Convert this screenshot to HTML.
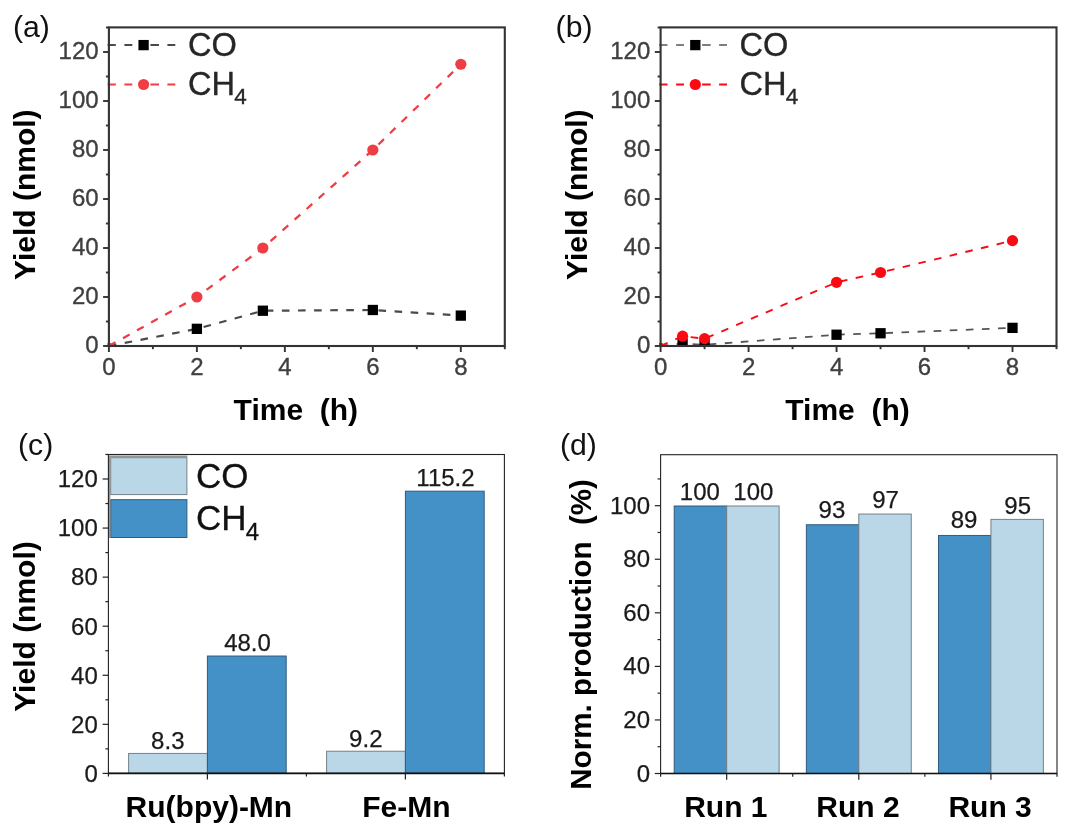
<!DOCTYPE html>
<html lang="en"><head><meta charset="utf-8"><title>Figure</title>
<style>html,body{margin:0;padding:0;background:#fff;}body{width:1080px;height:838px;overflow:hidden;}svg{display:block;filter:blur(0.4px);font-family:"Liberation Sans", Arial, Helvetica, sans-serif;}</style>
</head><body>
<svg width="1080" height="838" viewBox="0 0 1080 838">
<rect width="1080" height="838" fill="#fff"/>
<clipPath id="cpa"><rect x="107.40" y="27.40" width="397.40" height="318.60"/></clipPath>
<g clip-path="url(#cpa)">
<line x1="107.40" y1="45.0" x2="115.80" y2="45.0" stroke="#4a4a4a" stroke-width="2.1"/>
<line x1="107.40" y1="84.5" x2="115.80" y2="84.5" stroke="#ee3e44" stroke-width="2.2"/>
<line x1="124.40" y1="45.0" x2="132.30" y2="45.0" stroke="#4a4a4a" stroke-width="2.1"/>
<line x1="124.40" y1="84.5" x2="132.30" y2="84.5" stroke="#ee3e44" stroke-width="2.2"/>
<line x1="150.40" y1="45.0" x2="159.00" y2="45.0" stroke="#4a4a4a" stroke-width="2.1"/>
<line x1="150.40" y1="84.5" x2="159.00" y2="84.5" stroke="#ee3e44" stroke-width="2.2"/>
<line x1="167.40" y1="45.0" x2="175.30" y2="45.0" stroke="#4a4a4a" stroke-width="2.1"/>
<line x1="167.40" y1="84.5" x2="175.30" y2="84.5" stroke="#ee3e44" stroke-width="2.2"/>
<polyline points="108.90,346.00 196.88,328.85 262.86,310.72 372.83,309.99 460.81,315.62" fill="none" stroke="#4a4a4a" stroke-width="2.2" stroke-dasharray="7.6 8.5"/>
<rect x="191.73" y="323.70" width="10.3" height="10.3" fill="#000"/>
<rect x="257.71" y="305.57" width="10.3" height="10.3" fill="#000"/>
<rect x="367.68" y="304.84" width="10.3" height="10.3" fill="#000"/>
<rect x="455.66" y="310.47" width="10.3" height="10.3" fill="#000"/>
<polyline points="108.90,346.00 196.88,297.00 262.86,248.00 372.83,150.00 460.81,64.25" fill="none" stroke="#ee3e44" stroke-width="2.3000000000000003" stroke-dasharray="7.6 8.5"/>
<circle cx="108.90" cy="346.00" r="3.2" fill="#ee3e44"/>
<circle cx="196.88" cy="297.00" r="5.6" fill="#ee3e44"/>
<circle cx="262.86" cy="248.00" r="5.6" fill="#ee3e44"/>
<circle cx="372.83" cy="150.00" r="5.6" fill="#ee3e44"/>
<circle cx="460.81" cy="64.25" r="5.6" fill="#ee3e44"/>
</g>
<rect x="138.45" y="39.95" width="10.3" height="10.3" fill="#000"/>
<circle cx="143.60" cy="84.5" r="5.6" fill="#ee3e44"/>
<text x="187.90" y="55.90" font-size="32.6" text-anchor="start" font-weight="normal" fill="#262626" stroke="#262626" stroke-width="0.35">CO</text>
<text x="187.90" y="95.00" font-size="32.6" text-anchor="start" font-weight="normal" fill="#262626" stroke="#262626" stroke-width="0.35">CH<tspan font-size="22.5" dy="9.4" dx="-0.8">4</tspan></text>
<rect x="108.90" y="27.40" width="395.90" height="318.60" fill="none" stroke="#333" stroke-width="2.1"/>
<line x1="103.10" y1="346.00" x2="108.90" y2="346.00" stroke="#333" stroke-width="1.9"/>
<text x="98.60" y="353.40" font-size="24" text-anchor="end" font-weight="normal" fill="#3f3f3f" stroke="#3f3f3f" stroke-width="0.35">0</text>
<line x1="105.90" y1="321.50" x2="108.90" y2="321.50" stroke="#333" stroke-width="1.9"/>
<line x1="103.10" y1="297.00" x2="108.90" y2="297.00" stroke="#333" stroke-width="1.9"/>
<text x="98.60" y="304.40" font-size="24" text-anchor="end" font-weight="normal" fill="#3f3f3f" stroke="#3f3f3f" stroke-width="0.35">20</text>
<line x1="105.90" y1="272.50" x2="108.90" y2="272.50" stroke="#333" stroke-width="1.9"/>
<line x1="103.10" y1="248.00" x2="108.90" y2="248.00" stroke="#333" stroke-width="1.9"/>
<text x="98.60" y="255.40" font-size="24" text-anchor="end" font-weight="normal" fill="#3f3f3f" stroke="#3f3f3f" stroke-width="0.35">40</text>
<line x1="105.90" y1="223.50" x2="108.90" y2="223.50" stroke="#333" stroke-width="1.9"/>
<line x1="103.10" y1="199.00" x2="108.90" y2="199.00" stroke="#333" stroke-width="1.9"/>
<text x="98.60" y="206.40" font-size="24" text-anchor="end" font-weight="normal" fill="#3f3f3f" stroke="#3f3f3f" stroke-width="0.35">60</text>
<line x1="105.90" y1="174.50" x2="108.90" y2="174.50" stroke="#333" stroke-width="1.9"/>
<line x1="103.10" y1="150.00" x2="108.90" y2="150.00" stroke="#333" stroke-width="1.9"/>
<text x="98.60" y="157.40" font-size="24" text-anchor="end" font-weight="normal" fill="#3f3f3f" stroke="#3f3f3f" stroke-width="0.35">80</text>
<line x1="105.90" y1="125.50" x2="108.90" y2="125.50" stroke="#333" stroke-width="1.9"/>
<line x1="103.10" y1="101.00" x2="108.90" y2="101.00" stroke="#333" stroke-width="1.9"/>
<text x="98.60" y="108.40" font-size="24" text-anchor="end" font-weight="normal" fill="#3f3f3f" stroke="#3f3f3f" stroke-width="0.35">100</text>
<line x1="105.90" y1="76.50" x2="108.90" y2="76.50" stroke="#333" stroke-width="1.9"/>
<line x1="103.10" y1="52.00" x2="108.90" y2="52.00" stroke="#333" stroke-width="1.9"/>
<text x="98.60" y="59.40" font-size="24" text-anchor="end" font-weight="normal" fill="#3f3f3f" stroke="#3f3f3f" stroke-width="0.35">120</text>
<line x1="105.90" y1="27.50" x2="108.90" y2="27.50" stroke="#333" stroke-width="1.9"/>
<line x1="108.90" y1="346.00" x2="108.90" y2="352.00" stroke="#333" stroke-width="1.9"/>
<text x="108.90" y="375.00" font-size="24" text-anchor="middle" font-weight="normal" fill="#3f3f3f" stroke="#3f3f3f" stroke-width="0.35">0</text>
<line x1="152.89" y1="346.00" x2="152.89" y2="349.20" stroke="#333" stroke-width="1.9"/>
<line x1="196.88" y1="346.00" x2="196.88" y2="352.00" stroke="#333" stroke-width="1.9"/>
<text x="196.88" y="375.00" font-size="24" text-anchor="middle" font-weight="normal" fill="#3f3f3f" stroke="#3f3f3f" stroke-width="0.35">2</text>
<line x1="240.87" y1="346.00" x2="240.87" y2="349.20" stroke="#333" stroke-width="1.9"/>
<line x1="284.86" y1="346.00" x2="284.86" y2="352.00" stroke="#333" stroke-width="1.9"/>
<text x="284.86" y="375.00" font-size="24" text-anchor="middle" font-weight="normal" fill="#3f3f3f" stroke="#3f3f3f" stroke-width="0.35">4</text>
<line x1="328.84" y1="346.00" x2="328.84" y2="349.20" stroke="#333" stroke-width="1.9"/>
<line x1="372.83" y1="346.00" x2="372.83" y2="352.00" stroke="#333" stroke-width="1.9"/>
<text x="372.83" y="375.00" font-size="24" text-anchor="middle" font-weight="normal" fill="#3f3f3f" stroke="#3f3f3f" stroke-width="0.35">6</text>
<line x1="416.82" y1="346.00" x2="416.82" y2="349.20" stroke="#333" stroke-width="1.9"/>
<line x1="460.81" y1="346.00" x2="460.81" y2="352.00" stroke="#333" stroke-width="1.9"/>
<text x="460.81" y="375.00" font-size="24" text-anchor="middle" font-weight="normal" fill="#3f3f3f" stroke="#3f3f3f" stroke-width="0.35">8</text>
<line x1="504.80" y1="346.00" x2="504.80" y2="349.20" stroke="#333" stroke-width="1.9"/>
<text x="295.85" y="420.1" font-size="30" text-anchor="middle" font-weight="bold" fill="#000" xml:space="preserve">Time  (h)</text>
<text transform="translate(35.00,194.70) rotate(-90)" font-size="30" text-anchor="middle" font-weight="bold" fill="#000" xml:space="preserve">Yield (nmol)</text>
<text x="13.00" y="36.90" font-size="30.2" text-anchor="start" font-weight="normal" fill="#111">(a)</text>
<clipPath id="cpb"><rect x="659.10" y="27.40" width="397.40" height="318.60"/></clipPath>
<g clip-path="url(#cpb)">
<line x1="659.10" y1="45.0" x2="667.50" y2="45.0" stroke="#555" stroke-width="1.7"/>
<line x1="659.10" y1="84.5" x2="667.50" y2="84.5" stroke="#fb0a14" stroke-width="1.8"/>
<line x1="676.10" y1="45.0" x2="684.00" y2="45.0" stroke="#555" stroke-width="1.7"/>
<line x1="676.10" y1="84.5" x2="684.00" y2="84.5" stroke="#fb0a14" stroke-width="1.8"/>
<line x1="702.10" y1="45.0" x2="710.70" y2="45.0" stroke="#555" stroke-width="1.7"/>
<line x1="702.10" y1="84.5" x2="710.70" y2="84.5" stroke="#fb0a14" stroke-width="1.8"/>
<line x1="719.10" y1="45.0" x2="727.00" y2="45.0" stroke="#555" stroke-width="1.7"/>
<line x1="719.10" y1="84.5" x2="727.00" y2="84.5" stroke="#fb0a14" stroke-width="1.8"/>
<polyline points="660.60,346.00 682.59,343.55 704.59,344.77 836.56,334.73 880.54,333.26 1012.51,327.87" fill="none" stroke="#555" stroke-width="1.8" stroke-dasharray="7.6 8.5"/>
<rect x="677.44" y="338.40" width="10.3" height="10.3" fill="#000"/>
<rect x="699.44" y="339.62" width="10.3" height="10.3" fill="#000"/>
<rect x="831.41" y="329.58" width="10.3" height="10.3" fill="#000"/>
<rect x="875.39" y="328.11" width="10.3" height="10.3" fill="#000"/>
<rect x="1007.36" y="322.72" width="10.3" height="10.3" fill="#000"/>
<polyline points="660.60,346.00 682.59,336.20 704.59,338.65 836.56,282.30 880.54,272.50 1012.51,240.65" fill="none" stroke="#fb0a14" stroke-width="1.9000000000000001" stroke-dasharray="7.6 8.5"/>
<circle cx="660.60" cy="346.00" r="3.2" fill="#fb0a14"/>
<circle cx="682.59" cy="336.20" r="5.6" fill="#fb0a14"/>
<circle cx="704.59" cy="338.65" r="5.6" fill="#fb0a14"/>
<circle cx="836.56" cy="282.30" r="5.6" fill="#fb0a14"/>
<circle cx="880.54" cy="272.50" r="5.6" fill="#fb0a14"/>
<circle cx="1012.51" cy="240.65" r="5.6" fill="#fb0a14"/>
</g>
<rect x="690.15" y="39.95" width="10.3" height="10.3" fill="#000"/>
<circle cx="695.30" cy="84.5" r="5.6" fill="#fb0a14"/>
<text x="739.60" y="55.90" font-size="32.6" text-anchor="start" font-weight="normal" fill="#262626" stroke="#262626" stroke-width="0.35">CO</text>
<text x="739.60" y="95.00" font-size="32.6" text-anchor="start" font-weight="normal" fill="#262626" stroke="#262626" stroke-width="0.35">CH<tspan font-size="22.5" dy="9.4" dx="-0.8">4</tspan></text>
<rect x="660.60" y="27.40" width="395.90" height="318.60" fill="none" stroke="#333" stroke-width="2.1"/>
<line x1="654.80" y1="346.00" x2="660.60" y2="346.00" stroke="#333" stroke-width="1.9"/>
<text x="650.30" y="353.40" font-size="24" text-anchor="end" font-weight="normal" fill="#3f3f3f" stroke="#3f3f3f" stroke-width="0.35">0</text>
<line x1="657.60" y1="321.50" x2="660.60" y2="321.50" stroke="#333" stroke-width="1.9"/>
<line x1="654.80" y1="297.00" x2="660.60" y2="297.00" stroke="#333" stroke-width="1.9"/>
<text x="650.30" y="304.40" font-size="24" text-anchor="end" font-weight="normal" fill="#3f3f3f" stroke="#3f3f3f" stroke-width="0.35">20</text>
<line x1="657.60" y1="272.50" x2="660.60" y2="272.50" stroke="#333" stroke-width="1.9"/>
<line x1="654.80" y1="248.00" x2="660.60" y2="248.00" stroke="#333" stroke-width="1.9"/>
<text x="650.30" y="255.40" font-size="24" text-anchor="end" font-weight="normal" fill="#3f3f3f" stroke="#3f3f3f" stroke-width="0.35">40</text>
<line x1="657.60" y1="223.50" x2="660.60" y2="223.50" stroke="#333" stroke-width="1.9"/>
<line x1="654.80" y1="199.00" x2="660.60" y2="199.00" stroke="#333" stroke-width="1.9"/>
<text x="650.30" y="206.40" font-size="24" text-anchor="end" font-weight="normal" fill="#3f3f3f" stroke="#3f3f3f" stroke-width="0.35">60</text>
<line x1="657.60" y1="174.50" x2="660.60" y2="174.50" stroke="#333" stroke-width="1.9"/>
<line x1="654.80" y1="150.00" x2="660.60" y2="150.00" stroke="#333" stroke-width="1.9"/>
<text x="650.30" y="157.40" font-size="24" text-anchor="end" font-weight="normal" fill="#3f3f3f" stroke="#3f3f3f" stroke-width="0.35">80</text>
<line x1="657.60" y1="125.50" x2="660.60" y2="125.50" stroke="#333" stroke-width="1.9"/>
<line x1="654.80" y1="101.00" x2="660.60" y2="101.00" stroke="#333" stroke-width="1.9"/>
<text x="650.30" y="108.40" font-size="24" text-anchor="end" font-weight="normal" fill="#3f3f3f" stroke="#3f3f3f" stroke-width="0.35">100</text>
<line x1="657.60" y1="76.50" x2="660.60" y2="76.50" stroke="#333" stroke-width="1.9"/>
<line x1="654.80" y1="52.00" x2="660.60" y2="52.00" stroke="#333" stroke-width="1.9"/>
<text x="650.30" y="59.40" font-size="24" text-anchor="end" font-weight="normal" fill="#3f3f3f" stroke="#3f3f3f" stroke-width="0.35">120</text>
<line x1="657.60" y1="27.50" x2="660.60" y2="27.50" stroke="#333" stroke-width="1.9"/>
<line x1="660.60" y1="346.00" x2="660.60" y2="352.00" stroke="#333" stroke-width="1.9"/>
<text x="660.60" y="375.00" font-size="24" text-anchor="middle" font-weight="normal" fill="#3f3f3f" stroke="#3f3f3f" stroke-width="0.35">0</text>
<line x1="704.59" y1="346.00" x2="704.59" y2="349.20" stroke="#333" stroke-width="1.9"/>
<line x1="748.58" y1="346.00" x2="748.58" y2="352.00" stroke="#333" stroke-width="1.9"/>
<text x="748.58" y="375.00" font-size="24" text-anchor="middle" font-weight="normal" fill="#3f3f3f" stroke="#3f3f3f" stroke-width="0.35">2</text>
<line x1="792.57" y1="346.00" x2="792.57" y2="349.20" stroke="#333" stroke-width="1.9"/>
<line x1="836.56" y1="346.00" x2="836.56" y2="352.00" stroke="#333" stroke-width="1.9"/>
<text x="836.56" y="375.00" font-size="24" text-anchor="middle" font-weight="normal" fill="#3f3f3f" stroke="#3f3f3f" stroke-width="0.35">4</text>
<line x1="880.54" y1="346.00" x2="880.54" y2="349.20" stroke="#333" stroke-width="1.9"/>
<line x1="924.53" y1="346.00" x2="924.53" y2="352.00" stroke="#333" stroke-width="1.9"/>
<text x="924.53" y="375.00" font-size="24" text-anchor="middle" font-weight="normal" fill="#3f3f3f" stroke="#3f3f3f" stroke-width="0.35">6</text>
<line x1="968.52" y1="346.00" x2="968.52" y2="349.20" stroke="#333" stroke-width="1.9"/>
<line x1="1012.51" y1="346.00" x2="1012.51" y2="352.00" stroke="#333" stroke-width="1.9"/>
<text x="1012.51" y="375.00" font-size="24" text-anchor="middle" font-weight="normal" fill="#3f3f3f" stroke="#3f3f3f" stroke-width="0.35">8</text>
<line x1="1056.50" y1="346.00" x2="1056.50" y2="349.20" stroke="#333" stroke-width="1.9"/>
<text x="847.55" y="420.1" font-size="30" text-anchor="middle" font-weight="bold" fill="#000" xml:space="preserve">Time  (h)</text>
<text transform="translate(586.70,194.70) rotate(-90)" font-size="30" text-anchor="middle" font-weight="bold" fill="#000" xml:space="preserve">Yield (nmol)</text>
<text x="555.60" y="36.90" font-size="30.2" text-anchor="start" font-weight="normal" fill="#111">(b)</text>
<rect x="128.60" y="753.44" width="78.80" height="19.96" fill="#bad7e8" stroke="#74808a" stroke-width="1"/>
<rect x="207.40" y="656.04" width="78.80" height="117.36" fill="#4391c6" stroke="#335a7c" stroke-width="1"/>
<text x="167.80" y="749.04" font-size="24" text-anchor="middle" font-weight="normal" fill="#1a1a1a" stroke="#1a1a1a" stroke-width="0.25">8.3</text>
<text x="247.50" y="651.24" font-size="24" text-anchor="middle" font-weight="normal" fill="#1a1a1a" stroke="#1a1a1a" stroke-width="0.25">48.0</text>
<rect x="326.60" y="751.23" width="78.80" height="22.17" fill="#bad7e8" stroke="#74808a" stroke-width="1"/>
<rect x="405.40" y="491.18" width="78.80" height="282.22" fill="#4391c6" stroke="#335a7c" stroke-width="1"/>
<text x="365.80" y="746.83" font-size="24" text-anchor="middle" font-weight="normal" fill="#1a1a1a" stroke="#1a1a1a" stroke-width="0.25">9.2</text>
<text x="445.50" y="486.38" font-size="24" text-anchor="middle" font-weight="normal" fill="#1a1a1a" stroke="#1a1a1a" stroke-width="0.25">115.2</text>
<rect x="110.7" y="457.7" width="76.2" height="36.9" fill="#bad7e8" stroke="#74808a" stroke-width="1"/>
<rect x="110.7" y="499.7" width="76.2" height="37.8" fill="#4391c6" stroke="#335a7c" stroke-width="1"/>
<path d="M109.6,538 V456.2 H187.4" fill="none" stroke="#949494" stroke-width="1.5"/>
<text x="196.00" y="488.00" font-size="35" text-anchor="start" font-weight="normal" fill="#111" stroke="#111" stroke-width="0.3">CO</text>
<text x="196.00" y="530.20" font-size="35" text-anchor="start" font-weight="normal" fill="#111" stroke="#111" stroke-width="0.3">CH<tspan font-size="24" dy="9.4" dx="-0.8">4</tspan></text>
<rect x="108.40" y="454.50" width="396.00" height="318.90" fill="none" stroke="#222" stroke-width="1.1"/>
<line x1="108.40" y1="773.40" x2="504.40" y2="773.40" stroke="#111" stroke-width="1.6"/>
<line x1="102.60" y1="773.40" x2="108.40" y2="773.40" stroke="#222" stroke-width="1.2"/>
<text x="97.80" y="781.70" font-size="24" text-anchor="end" font-weight="normal" fill="#1a1a1a" stroke="#1a1a1a" stroke-width="0.25">0</text>
<line x1="105.40" y1="748.87" x2="108.40" y2="748.87" stroke="#222" stroke-width="1.2"/>
<line x1="102.60" y1="724.33" x2="108.40" y2="724.33" stroke="#222" stroke-width="1.2"/>
<text x="97.80" y="732.63" font-size="24" text-anchor="end" font-weight="normal" fill="#1a1a1a" stroke="#1a1a1a" stroke-width="0.25">20</text>
<line x1="105.40" y1="699.80" x2="108.40" y2="699.80" stroke="#222" stroke-width="1.2"/>
<line x1="102.60" y1="675.27" x2="108.40" y2="675.27" stroke="#222" stroke-width="1.2"/>
<text x="97.80" y="683.57" font-size="24" text-anchor="end" font-weight="normal" fill="#1a1a1a" stroke="#1a1a1a" stroke-width="0.25">40</text>
<line x1="105.40" y1="650.73" x2="108.40" y2="650.73" stroke="#222" stroke-width="1.2"/>
<line x1="102.60" y1="626.20" x2="108.40" y2="626.20" stroke="#222" stroke-width="1.2"/>
<text x="97.80" y="634.50" font-size="24" text-anchor="end" font-weight="normal" fill="#1a1a1a" stroke="#1a1a1a" stroke-width="0.25">60</text>
<line x1="105.40" y1="601.67" x2="108.40" y2="601.67" stroke="#222" stroke-width="1.2"/>
<line x1="102.60" y1="577.13" x2="108.40" y2="577.13" stroke="#222" stroke-width="1.2"/>
<text x="97.80" y="585.43" font-size="24" text-anchor="end" font-weight="normal" fill="#1a1a1a" stroke="#1a1a1a" stroke-width="0.25">80</text>
<line x1="105.40" y1="552.60" x2="108.40" y2="552.60" stroke="#222" stroke-width="1.2"/>
<line x1="102.60" y1="528.07" x2="108.40" y2="528.07" stroke="#222" stroke-width="1.2"/>
<text x="97.80" y="536.37" font-size="24" text-anchor="end" font-weight="normal" fill="#1a1a1a" stroke="#1a1a1a" stroke-width="0.25">100</text>
<line x1="105.40" y1="503.53" x2="108.40" y2="503.53" stroke="#222" stroke-width="1.2"/>
<line x1="102.60" y1="479.00" x2="108.40" y2="479.00" stroke="#222" stroke-width="1.2"/>
<text x="97.80" y="487.30" font-size="24" text-anchor="end" font-weight="normal" fill="#1a1a1a" stroke="#1a1a1a" stroke-width="0.25">120</text>
<line x1="105.40" y1="454.47" x2="108.40" y2="454.47" stroke="#222" stroke-width="1.2"/>
<line x1="108.40" y1="773.40" x2="108.40" y2="776.60" stroke="#222" stroke-width="1.2"/>
<line x1="207.40" y1="773.40" x2="207.40" y2="779.60" stroke="#222" stroke-width="1.2"/>
<line x1="306.40" y1="773.40" x2="306.40" y2="776.60" stroke="#222" stroke-width="1.2"/>
<line x1="405.40" y1="773.40" x2="405.40" y2="779.60" stroke="#222" stroke-width="1.2"/>
<line x1="504.40" y1="773.40" x2="504.40" y2="776.60" stroke="#222" stroke-width="1.2"/>
<text x="208.90" y="817.00" font-size="30" text-anchor="middle" font-weight="bold" fill="#000">Ru(bpy)-Mn</text>
<text x="406.40" y="817.00" font-size="30" text-anchor="middle" font-weight="bold" fill="#000">Fe-Mn</text>
<text transform="translate(35.00,626.50) rotate(-90)" font-size="30" text-anchor="middle" font-weight="bold" fill="#000" xml:space="preserve">Yield (nmol)</text>
<text x="18.00" y="455.30" font-size="30.2" text-anchor="start" font-weight="normal" fill="#111">(c)</text>
<rect x="674.21" y="506.00" width="52.45" height="267.50" fill="#4391c6" stroke="#335a7c" stroke-width="1"/>
<rect x="726.67" y="506.00" width="52.45" height="267.50" fill="#bad7e8" stroke="#74808a" stroke-width="1"/>
<text x="699.84" y="499.90" font-size="24" text-anchor="middle" font-weight="normal" fill="#1a1a1a" stroke="#1a1a1a" stroke-width="0.25">100</text>
<text x="753.39" y="500.30" font-size="24" text-anchor="middle" font-weight="normal" fill="#1a1a1a" stroke="#1a1a1a" stroke-width="0.25">100</text>
<text x="725.87" y="816.80" font-size="30" text-anchor="middle" font-weight="bold" fill="#000">Run 1</text>
<rect x="806.35" y="524.75" width="52.45" height="248.75" fill="#4391c6" stroke="#335a7c" stroke-width="1"/>
<rect x="858.80" y="514.03" width="52.45" height="259.47" fill="#bad7e8" stroke="#74808a" stroke-width="1"/>
<text x="831.97" y="518.05" font-size="24" text-anchor="middle" font-weight="normal" fill="#1a1a1a" stroke="#1a1a1a" stroke-width="0.25">93</text>
<text x="885.53" y="507.53" font-size="24" text-anchor="middle" font-weight="normal" fill="#1a1a1a" stroke="#1a1a1a" stroke-width="0.25">97</text>
<text x="858.00" y="816.80" font-size="30" text-anchor="middle" font-weight="bold" fill="#000">Run 2</text>
<rect x="938.48" y="535.46" width="52.45" height="238.04" fill="#4391c6" stroke="#335a7c" stroke-width="1"/>
<rect x="990.93" y="519.39" width="52.45" height="254.11" fill="#bad7e8" stroke="#74808a" stroke-width="1"/>
<text x="964.11" y="528.46" font-size="24" text-anchor="middle" font-weight="normal" fill="#1a1a1a" stroke="#1a1a1a" stroke-width="0.25">89</text>
<text x="1017.66" y="513.59" font-size="24" text-anchor="middle" font-weight="normal" fill="#1a1a1a" stroke="#1a1a1a" stroke-width="0.25">95</text>
<text x="990.13" y="816.80" font-size="30" text-anchor="middle" font-weight="bold" fill="#000">Run 3</text>
<rect x="660.60" y="454.70" width="396.40" height="318.80" fill="none" stroke="#222" stroke-width="1.1"/>
<line x1="660.60" y1="773.50" x2="1057.00" y2="773.50" stroke="#111" stroke-width="1.6"/>
<line x1="654.80" y1="773.50" x2="660.60" y2="773.50" stroke="#222" stroke-width="1.2"/>
<text x="650.00" y="781.50" font-size="24" text-anchor="end" font-weight="normal" fill="#1a1a1a" stroke="#1a1a1a" stroke-width="0.25">0</text>
<line x1="657.60" y1="746.72" x2="660.60" y2="746.72" stroke="#222" stroke-width="1.2"/>
<line x1="654.80" y1="719.94" x2="660.60" y2="719.94" stroke="#222" stroke-width="1.2"/>
<text x="650.00" y="727.94" font-size="24" text-anchor="end" font-weight="normal" fill="#1a1a1a" stroke="#1a1a1a" stroke-width="0.25">20</text>
<line x1="657.60" y1="693.16" x2="660.60" y2="693.16" stroke="#222" stroke-width="1.2"/>
<line x1="654.80" y1="666.38" x2="660.60" y2="666.38" stroke="#222" stroke-width="1.2"/>
<text x="650.00" y="674.38" font-size="24" text-anchor="end" font-weight="normal" fill="#1a1a1a" stroke="#1a1a1a" stroke-width="0.25">40</text>
<line x1="657.60" y1="639.60" x2="660.60" y2="639.60" stroke="#222" stroke-width="1.2"/>
<line x1="654.80" y1="612.82" x2="660.60" y2="612.82" stroke="#222" stroke-width="1.2"/>
<text x="650.00" y="620.82" font-size="24" text-anchor="end" font-weight="normal" fill="#1a1a1a" stroke="#1a1a1a" stroke-width="0.25">60</text>
<line x1="657.60" y1="586.04" x2="660.60" y2="586.04" stroke="#222" stroke-width="1.2"/>
<line x1="654.80" y1="559.26" x2="660.60" y2="559.26" stroke="#222" stroke-width="1.2"/>
<text x="650.00" y="567.26" font-size="24" text-anchor="end" font-weight="normal" fill="#1a1a1a" stroke="#1a1a1a" stroke-width="0.25">80</text>
<line x1="657.60" y1="532.48" x2="660.60" y2="532.48" stroke="#222" stroke-width="1.2"/>
<line x1="654.80" y1="505.70" x2="660.60" y2="505.70" stroke="#222" stroke-width="1.2"/>
<text x="650.00" y="513.70" font-size="24" text-anchor="end" font-weight="normal" fill="#1a1a1a" stroke="#1a1a1a" stroke-width="0.25">100</text>
<line x1="657.60" y1="478.92" x2="660.60" y2="478.92" stroke="#222" stroke-width="1.2"/>
<line x1="660.60" y1="773.50" x2="660.60" y2="776.70" stroke="#222" stroke-width="1.2"/>
<line x1="726.67" y1="773.50" x2="726.67" y2="779.70" stroke="#222" stroke-width="1.2"/>
<line x1="792.73" y1="773.50" x2="792.73" y2="776.70" stroke="#222" stroke-width="1.2"/>
<line x1="858.80" y1="773.50" x2="858.80" y2="779.70" stroke="#222" stroke-width="1.2"/>
<line x1="924.87" y1="773.50" x2="924.87" y2="776.70" stroke="#222" stroke-width="1.2"/>
<line x1="990.93" y1="773.50" x2="990.93" y2="779.70" stroke="#222" stroke-width="1.2"/>
<line x1="1057.00" y1="773.50" x2="1057.00" y2="776.70" stroke="#222" stroke-width="1.2"/>
<text transform="translate(591.40,634.40) rotate(-90)" font-size="29.6" text-anchor="middle" font-weight="bold" fill="#000" xml:space="preserve">Norm. production  (%)</text>
<text x="560.00" y="455.40" font-size="30.2" text-anchor="start" font-weight="normal" fill="#111">(d)</text>
</svg></body></html>
